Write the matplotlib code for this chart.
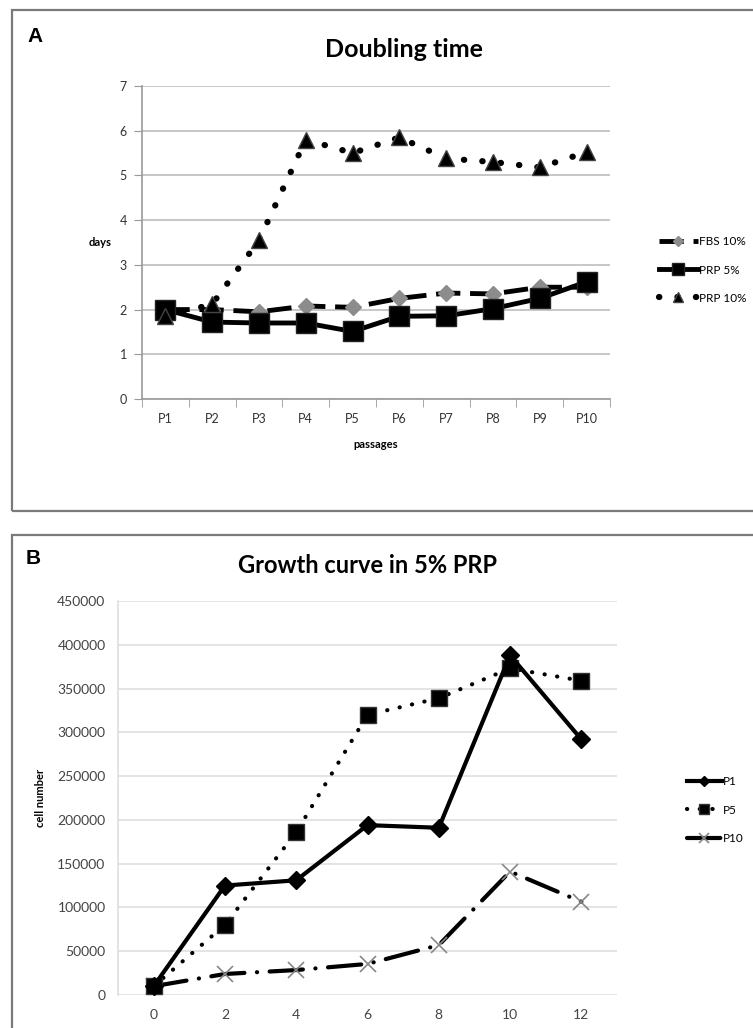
import matplotlib
matplotlib.use("Agg")
import matplotlib.pyplot as plt
from matplotlib.patches import Rectangle

plt.rcParams['font.family'] = ['Lato', 'DejaVu Sans']

# ---------------- data ----------------
passages = ["P1", "P2", "P3", "P4", "P5", "P6", "P7", "P8", "P9", "P10"]
fbs10 = [2.0, 2.0, 1.95, 2.08, 2.05, 2.25, 2.37, 2.35, 2.5, 2.5]
prp5 = [2.0, 1.72, 1.70, 1.70, 1.51, 1.85, 1.86, 2.02, 2.25, 2.62]
prp10 = [1.85, 2.12, 3.55, 5.8, 5.5, 5.85, 5.38, 5.3, 5.18, 5.52]
days_ticks = [0, 1, 2, 3, 4, 5, 6, 7]

days_b = ["0", "2", "4", "6", "8", "10", "12"]
p1 = [10000, 125000, 131000, 194000, 191000, 388000, 292000]
p5 = [10000, 80000, 186000, 320000, 339000, 373000, 359000]
p10 = [10000, 24000, 28500, 35500, 57000, 141000, 106500]
cell_ticks = [0, 50000, 100000, 150000, 200000, 250000, 300000, 350000, 400000, 450000]

W, H = 753, 1028
fig = plt.figure(figsize=(W / 100, H / 100), dpi=100)


def fr(left, top, right, bottom):
    return [left / W, 1 - bottom / H, (right - left) / W, (bottom - top) / H]


# panel boxes
fig.patches.append(Rectangle((12 / W, 1 - 511 / H), 760 / W, 501 / H, transform=fig.transFigure,
                             fill=False, edgecolor='#7a7a7a', linewidth=1.6))
fig.patches.append(Rectangle((12 / W, -0.05), 760 / W, 1.05 - 535 / H, transform=fig.transFigure,
                             fill=False, edgecolor='#7a7a7a', linewidth=1.6))
fig.text(27 / W, 1 - 36 / H, "A", fontsize=15, fontweight='bold', va='center', ha='left',
         family=['Liberation Sans', 'DejaVu Sans'])
fig.text(26 / W, 1 - 559 / H, "B", fontsize=15, fontweight='bold', va='center', ha='left',
         family=['Liberation Sans', 'DejaVu Sans'])

# ---------------- panel A ----------------
axA = fig.add_axes(fr(142, 86, 610, 399))
x = list(range(len(passages)))
axA.plot(x, fbs10, color='black', lw=3.5, linestyle=(0, (5, 2)), marker='D', markersize=8,
         markerfacecolor='#8c8c8c', markeredgecolor='#8c8c8c', label='FBS 10%', zorder=3)
axA.plot(x, prp5, color='black', lw=3.5, linestyle='-', marker='s', markersize=14,
         markerfacecolor='black', markeredgecolor='#222222', label='PRP 5%', zorder=4)
axA.plot(x, prp10, color='black', lw=4.5, linestyle=(0, (0.05, 2.9)), dash_capstyle='round',
         marker='^', markersize=12, markerfacecolor='black', markeredgecolor='#444444',
         label='PRP 10%', zorder=5)
axA.set_xlim(-0.5, 9.5)
axA.set_ylim(0, 7)
axA.set_yticks(days_ticks)
axA.set_xticks(x)
axA.set_xticklabels(passages)
axA.set_xticks([i + 0.5 for i in range(-1, 10)], minor=True)
axA.tick_params(axis='x', which='major', length=0, pad=10, labelsize=9, colors='#333333')
axA.tick_params(axis='x', which='minor', length=6, color='#999999', direction='out')
axA.tick_params(axis='y', length=6, color='#999999', labelsize=9, colors='#333333', pad=5)
axA.grid(axis='y', color='#bdbdbd', lw=1.2)
axA.set_axisbelow(True)
for s in ['top', 'right']:
    axA.spines[s].set_visible(False)
for s in ['left', 'bottom']:
    axA.spines[s].set_color('#999999')
    axA.spines[s].set_linewidth(1.2)
axA.set_title("Doubling time", fontsize=18, fontweight='bold', pad=21, x=0.56)
axA.set_ylabel("days", fontsize=8, fontweight='bold', rotation=0, labelpad=14, va='center')
axA.set_xlabel("passages", fontsize=8, fontweight='bold', labelpad=10)
legA = axA.legend(loc='center left', bbox_to_anchor=(648 / W, 1 - 270 / H),
                  bbox_transform=fig.transFigure, frameon=False, fontsize=8.5,
                  handlelength=3.3, handletextpad=0.1, labelspacing=1.45, markerscale=0.6)

# ---------------- panel B ----------------
axB = fig.add_axes(fr(118, 601, 617, 995))
xb = list(range(len(days_b)))
axB.plot(xb, p1, color='black', lw=3, linestyle='-', marker='D', markersize=9,
         markerfacecolor='black', label='P1', zorder=4)
axB.plot(xb, p5, color='black', lw=3, linestyle=(0, (0.05, 3.0)), dash_capstyle='round',
         marker='s', markersize=11, markerfacecolor='black', markeredgecolor='#333333',
         label='P5', zorder=3)
axB.plot(xb, p10, color='black', lw=3, linestyle=(0, (8, 3, 0.05, 3)), dash_capstyle='round',
         marker='x', markersize=12, markeredgewidth=1.2, markeredgecolor='#888888',
         label='P10', zorder=2)
axB.set_xlim(-0.5, 6.5)
axB.set_ylim(0, 450000)
axB.set_yticks(cell_ticks)
axB.set_yticklabels([str(v) for v in cell_ticks])
axB.set_xticks(xb)
axB.set_xticklabels(days_b)
axB.tick_params(axis='both', length=0, labelsize=10, colors='#444444')
axB.tick_params(axis='y', pad=9)
axB.tick_params(axis='x', pad=10)
axB.grid(axis='y', color='#dcdcdc', lw=1.1)
axB.set_axisbelow(True)
for s in ['top', 'right', 'bottom']:
    axB.spines[s].set_visible(False)
axB.spines['left'].set_color('#dcdcdc')
axB.spines['left'].set_linewidth(1.1)
axB.set_title("Growth curve in 5% PRP", fontsize=17, fontweight='bold', pad=20, x=0.5)
axB.set_ylabel("cell number", fontsize=8, fontweight='bold', labelpad=8)
legB = axB.legend(loc='center left', bbox_to_anchor=(676 / W, 1 - 810 / H),
                  bbox_transform=fig.transFigure, frameon=False, fontsize=8.5,
                  handlelength=3.0, handletextpad=0.1, labelspacing=1.5, markerscale=0.6)

fig.savefig("out.png", dpi=100)
